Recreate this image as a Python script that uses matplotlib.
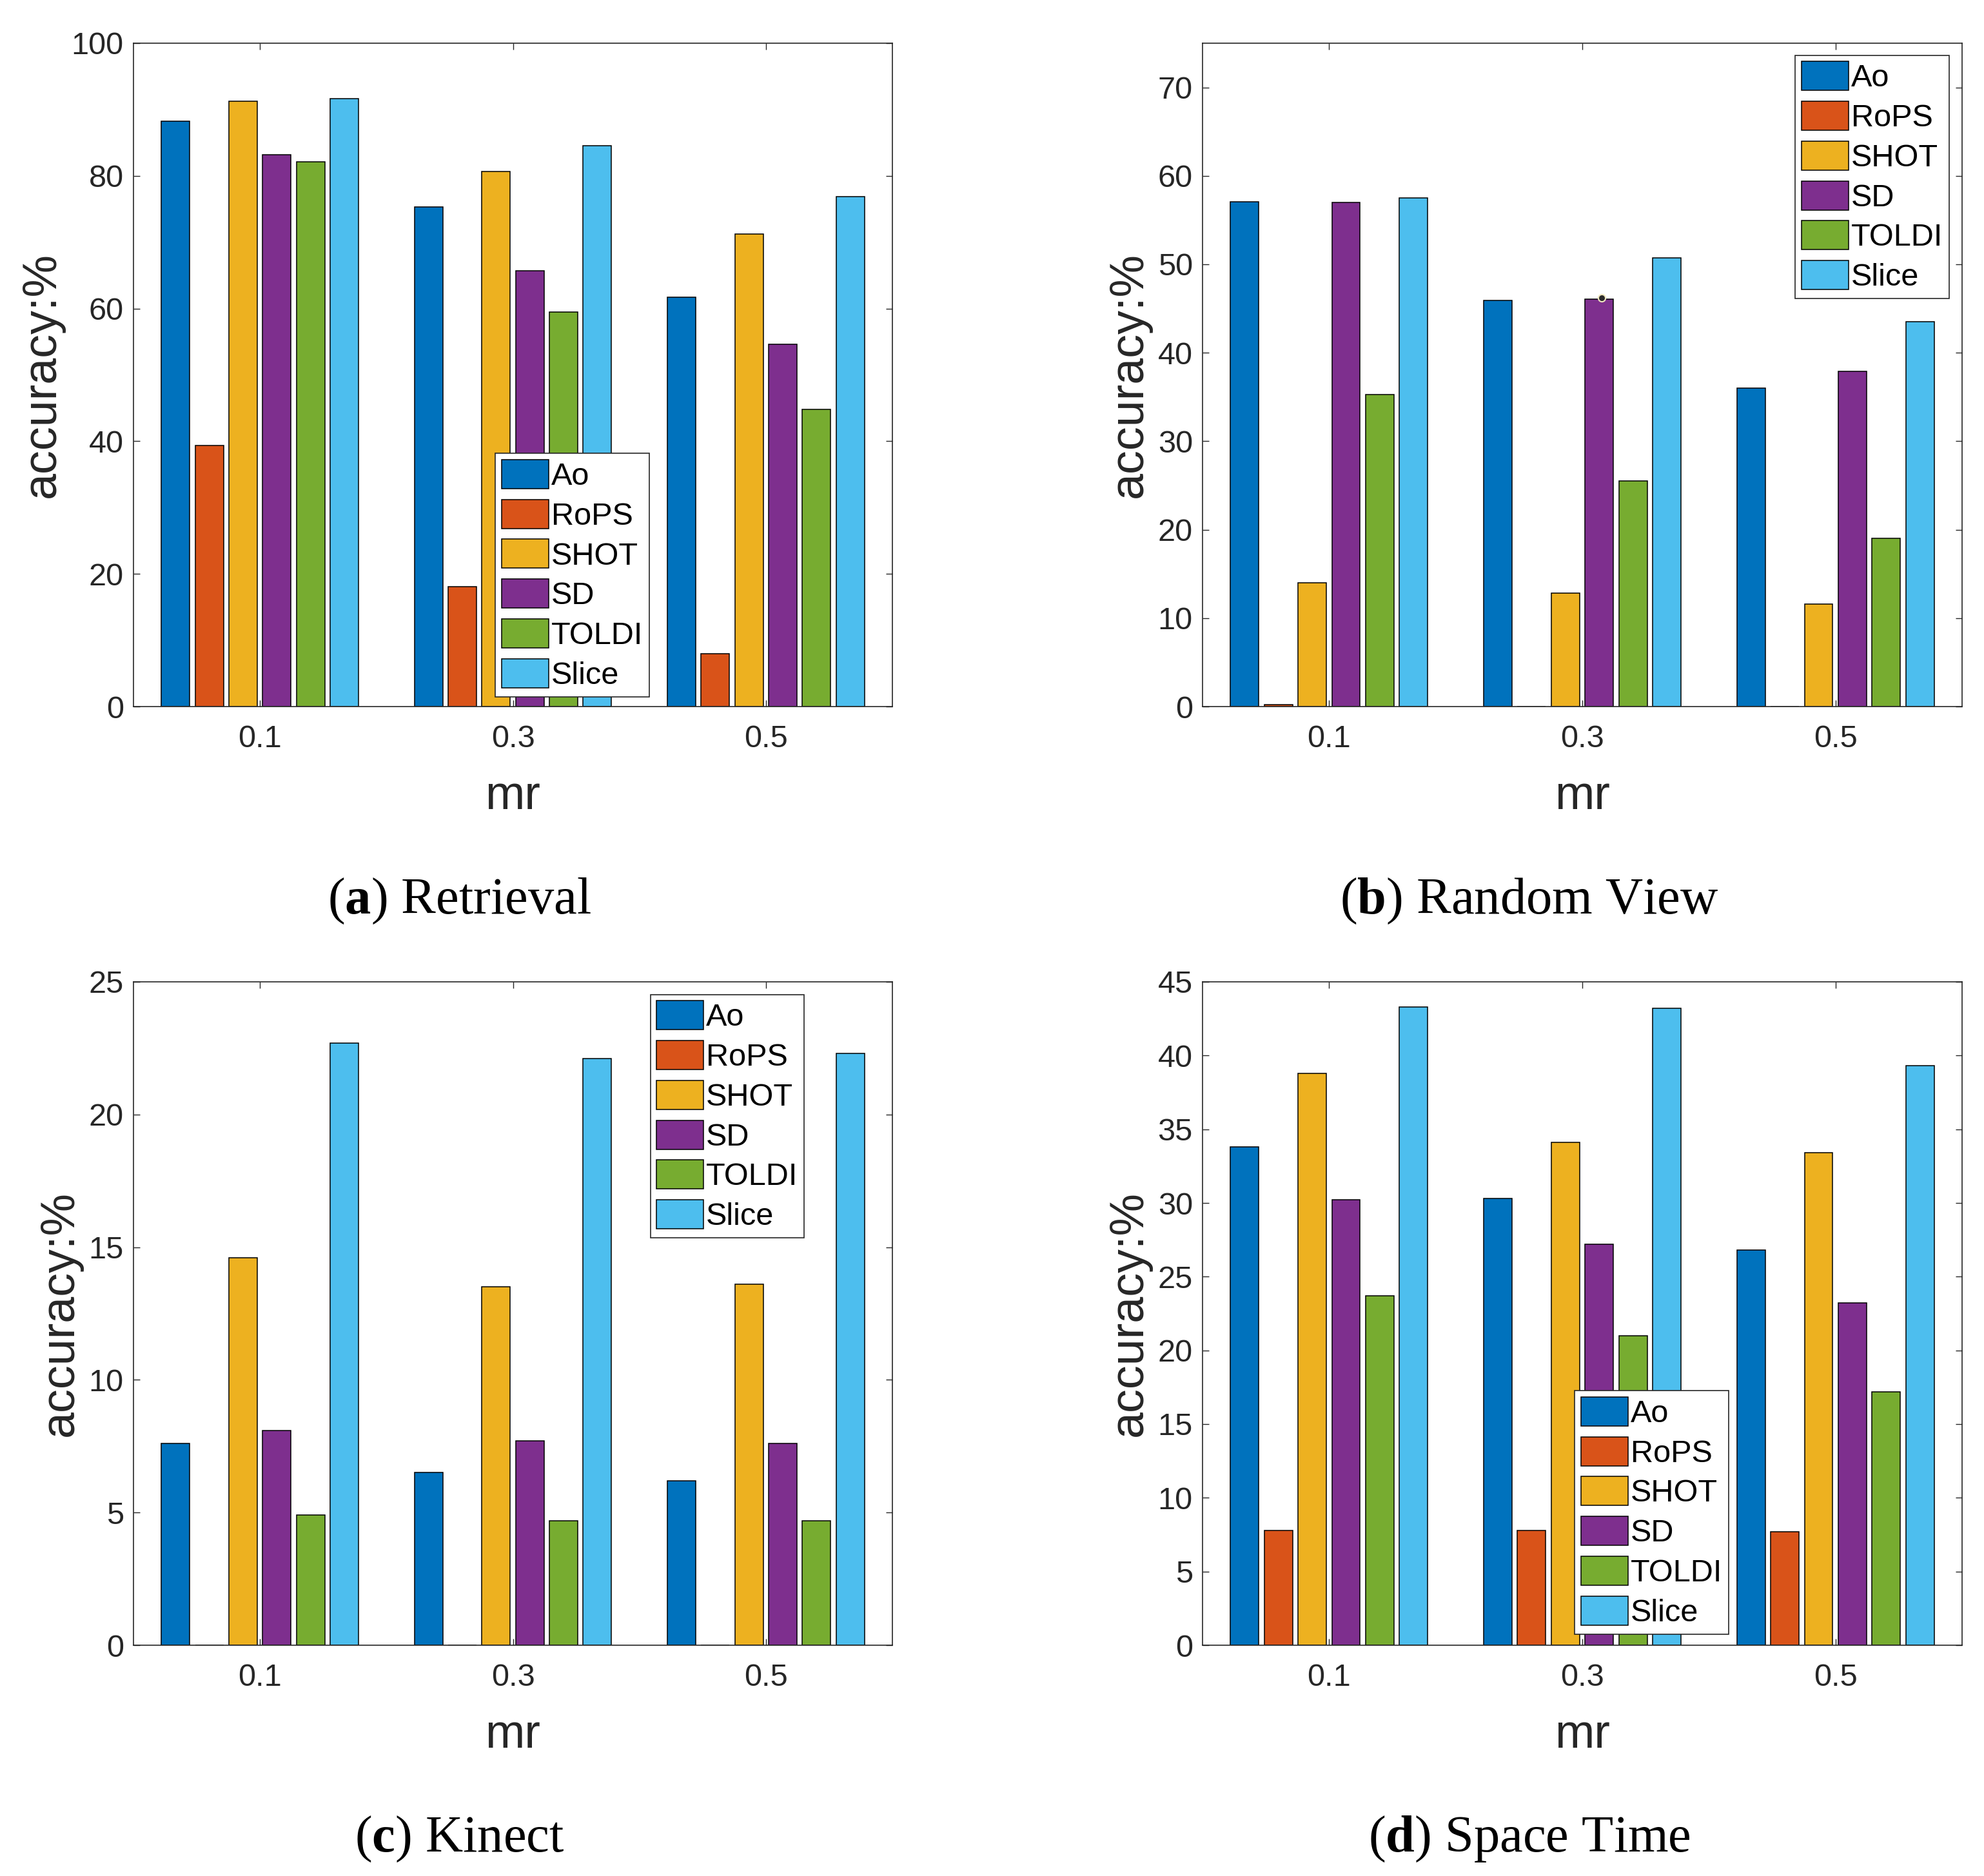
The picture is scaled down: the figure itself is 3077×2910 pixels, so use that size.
import numpy as np
import matplotlib
matplotlib.use("Agg")
import matplotlib.pyplot as plt

plt.rcParams['font.family'] = ['Liberation Sans', 'DejaVu Sans']
plt.rcParams['mathtext.fontset'] = 'custom'
plt.rcParams['mathtext.rm'] = 'Liberation Serif'
plt.rcParams['mathtext.bf'] = 'Liberation Serif:bold'

# --- data ---
mr_labels = ['0.1', '0.3', '0.5']
methods = ['Ao', 'RoPS', 'SHOT', 'SD', 'TOLDI', 'Slice']
colors = ['#0072BD', '#D95319', '#EDB120', '#7E2F8E', '#77AC30', '#4DBEEE']

# rows = mr (0.1, 0.3, 0.5), columns = methods
retrieval = [[88.2, 39.4, 91.3, 83.2, 82.1, 91.6],
             [75.3, 18.1, 80.7, 65.7, 59.5, 84.5],
             [61.7, 8.0, 71.2, 54.6, 44.8, 76.9]]
random_view = [[57.1, 0.2, 14.0, 57.0, 35.3, 57.5],
               [45.9, 0.0, 12.8, 46.1, 25.5, 50.7],
               [36.0, 0.0, 11.6, 37.9, 19.0, 43.5]]
kinect = [[7.6, 0.0, 14.6, 8.1, 4.9, 22.7],
          [6.5, 0.0, 13.5, 7.7, 4.7, 22.1],
          [6.2, 0.0, 13.6, 7.6, 4.7, 22.3]]
space_time = [[33.8, 7.8, 38.8, 30.2, 23.7, 43.3],
              [30.3, 7.8, 34.1, 27.2, 21.0, 43.2],
              [26.8, 7.7, 33.4, 23.2, 17.2, 39.3]]

panels = [
    dict(data=retrieval, ylim=100, yticks=np.arange(0, 101, 20), cap='a', name='Retrieval',
         leg_loc='lower left', leg_anchor=(0.477, 0.015), ylab_x=-0.091),
    dict(data=random_view, ylim=75, yticks=np.arange(0, 71, 10), cap='b', name='Random View',
         leg_loc='upper right', leg_anchor=(0.983, 0.982), ylab_x=-0.067),
    dict(data=kinect, ylim=25, yticks=np.arange(0, 26, 5), cap='c', name='Kinect',
         leg_loc='upper left', leg_anchor=(0.681, 0.981), ylab_x=-0.067),
    dict(data=space_time, ylim=45, yticks=np.arange(0, 46, 5), cap='d', name='Space Time',
         leg_loc='lower left', leg_anchor=(0.490, 0.017), ylab_x=-0.067),
]

W, H = 3077, 2910
fig = plt.figure(figsize=(W / 100, H / 100), dpi=100)

ax_rects = [
    (207 / W, 1 - 1096 / H, 1177 / W, 1029 / H),
    (1865 / W, 1 - 1096 / H, 1178 / W, 1029 / H),
    (207 / W, 1 - 2552 / H, 1177 / W, 1029 / H),
    (1865 / W, 1 - 2552 / H, 1178 / W, 1029 / H),
]

gray = '#262626'
x = np.arange(1, 4)
pitch = 0.1333
bw = 0.112

for i, p in enumerate(panels):
    ax = fig.add_axes(ax_rects[i])
    vals = np.array(p['data'])
    for j, m in enumerate(methods):
        ax.bar(x + (j - 2.5) * pitch, vals[:, j], width=bw, color=colors[j],
               edgecolor='black', linewidth=1.1, label=m, zorder=2)
    ax.set_xlim(0.5, 3.5)
    ax.set_ylim(0, p['ylim'])
    ax.set_xticks(x)
    ax.set_xticklabels(mr_labels)
    ax.set_yticks(p['yticks'])
    ax.tick_params(direction='in', length=7, width=1, top=True, right=True,
                   colors=gray, labelsize=35)
    ax.tick_params(axis='x', pad=20)
    ax.tick_params(axis='y', pad=11)
    for s in ax.spines.values():
        s.set_color(gray)
        s.set_linewidth(1.2)
    ax.set_xlabel('mr', fontsize=53, color=gray)
    ax.set_ylabel('accuracy:%', fontsize=53, color=gray)
    ax.xaxis.set_label_coords(0.5, -0.102)
    ax.yaxis.set_label_coords(p['ylab_x'], 0.5)

    if p['cap'] == 'b':
        # small data tip left on the SD bar at mr = 0.3
        ax.plot(x[1] + (3 - 2.5) * pitch + 0.01, vals[1, 3] + 0.1, 'o', ms=8,
                mfc='#2a2a2a', mec='#f0e8c0', mew=1.5, zorder=3)

    leg = ax.legend(loc=p['leg_loc'], bbox_to_anchor=p['leg_anchor'], fontsize=35,
                    handlelength=1.5, handleheight=1.05, handletextpad=0.08,
                    labelspacing=0.26, borderpad=0.2, borderaxespad=0,
                    fancybox=False, framealpha=1, edgecolor=gray)
    leg.get_frame().set_linewidth(1.2)

    fig.text(ax_rects[i][0] + ax_rects[i][2] * 0.43,
             0.513 if i < 2 else 0.0131,
             r'($\mathbf{%s}$) %s' % (p['cap'], p['name']),
             ha='center', va='baseline', fontsize=58, family='Liberation Serif')

fig.savefig('out.png', dpi=100)
